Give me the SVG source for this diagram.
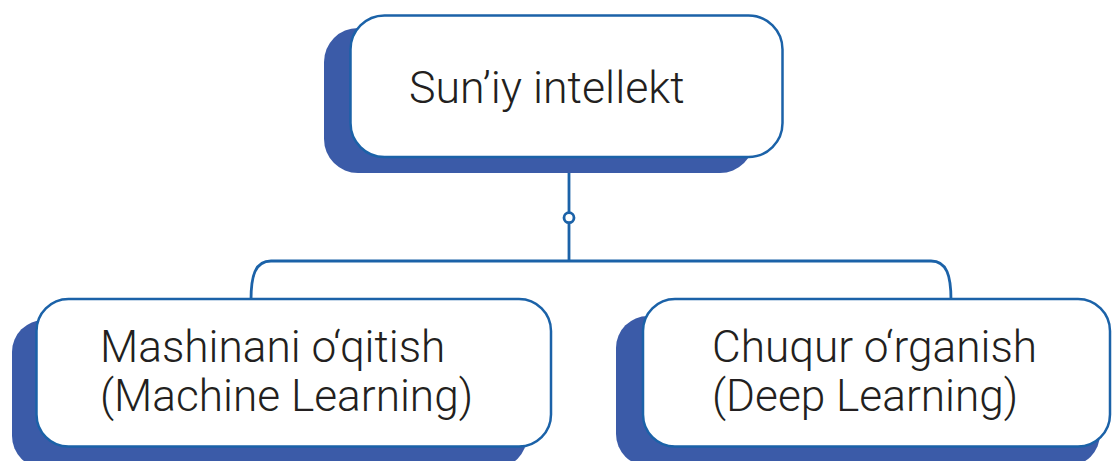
<svg xmlns="http://www.w3.org/2000/svg" width="1112" height="461" viewBox="0 0 1112 461">
<defs>
<style>
.shadow{fill:#3b5ba8;}
.box{fill:#ffffff;stroke:#1b62a8;stroke-width:2.5;}
.conn{fill:none;stroke:#1b62a8;stroke-width:2.8;}
.lbl{font-family:Roboto,"Liberation Sans",sans-serif;font-weight:300;fill:#231f20;}
</style>
</defs>
<rect width="1112" height="461" fill="#ffffff"/>
<g id="connectors">
<path class="conn" d="M569,172 V212.5 M569,223 V261"/>
<circle class="conn" cx="569" cy="217.7" r="5" stroke-width="2.4"/>
<path class="conn" d="M251,300 C251,276 255,261 271,261 H931 C947,261 951,276 951,300"/>
</g>
<g id="node-ai">
<rect class="shadow" x="324" y="28" width="430" height="145" rx="34"/>
<rect class="box" x="350.5" y="15.5" width="432" height="141.5" rx="34"/>
<text class="lbl" x="409" y="103" font-size="44.7">Sun’iy intellekt</text>
</g>
<g id="node-ml">
<rect class="shadow" x="12" y="320" width="515" height="148" rx="32"/>
<rect class="box" x="36.5" y="299" width="514.5" height="147.5" rx="32"/>
<text class="lbl" font-size="44.2"><tspan x="100" y="362">Mashinani o‘qitish</tspan><tspan x="100" y="411">(Machine Learning)</tspan></text>
</g>
<g id="node-dl">
<rect class="shadow" x="616" y="316" width="484" height="150" rx="32"/>
<rect class="box" x="643" y="299" width="467" height="147.5" rx="32"/>
<text class="lbl" font-size="44.2"><tspan x="712" y="362">Chuqur o‘rganish</tspan><tspan x="712" y="411">(Deep Learning)</tspan></text>
</g>
</svg>
